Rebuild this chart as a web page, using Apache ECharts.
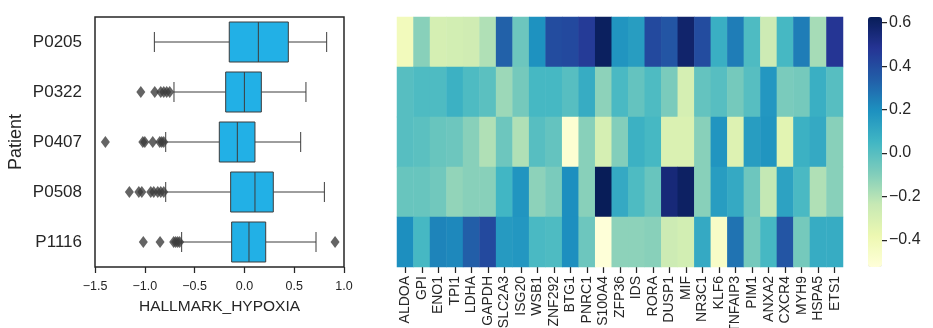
<!DOCTYPE html>
<html>
<head>
<meta charset="utf-8">
<script src="https://cdn.jsdelivr.net/npm/echarts@6/dist/echarts.min.js"></script>
<style>
html,body{margin:0;padding:0;background:#fff;}
#chart{width:933px;height:328px;}
</style>
</head>
<body>
<div id="chart"></div>
<script>
// ---------- DATA ----------
const patients = ['P0205', 'P0322', 'P0407', 'P0508', 'P1116'];
const genes = ['ALDOA','GPI','ENO1','TPI1','LDHA','GAPDH','SLC2A3','ISG20','WSB1','ZNF292','BTG1','PNRC1','S100A4','ZFP36','IDS','RORA','DUSP1','MIF','NR3C1','KLF6','TNFAIP3','PIM1','ANXA2','CXCR4','MYH9','HSPA5','ETS1'];

// boxplot statistics (HALLMARK_HYPOXIA) per patient
const boxLow    = [-0.904, -0.707, -0.790, -0.790, -0.630];
const boxQ1     = [-0.152, -0.188, -0.252, -0.138, -0.128];
const boxMedian = [ 0.140,  0.000, -0.071,  0.106,  0.046];
const boxQ3     = [ 0.441,  0.170,  0.106,  0.290,  0.214];
const boxHigh   = [ 0.826,  0.618,  0.565,  0.803,  0.719];

// outliers per patient
const outP0205 = [];
const outP0322 = [-1.04, -0.90, -0.84, -0.81, -0.78, -0.75];
const outP0407 = [-1.396, -1.02, -1.00, -0.92, -0.85, -0.83, -0.81];
const outP0508 = [-1.155, -1.06, -1.03, -0.94, -0.91, -0.87, -0.84, -0.81];
const outP1116 = [-1.015, -0.847, -0.71, -0.69, -0.67, -0.65, 0.91];

// heatmap values per patient (one per gene)
const heatP0205 = [-0.42,-0.11,-0.29,-0.28,-0.27,-0.19, 0.33,-0.05, 0.19, 0.40, 0.41, 0.46, 0.61, 0.18, 0.15, 0.41, 0.37, 0.58, 0.40, 0.08, 0.25, 0.02,-0.26, 0.04, 0.25,-0.17, 0.48];
const heatP0322 = [ 0.00, 0.02, 0.02, 0.07, 0.02,-0.01,-0.15,-0.07, 0.04, 0.04, 0.00, 0.09,-0.12, 0.03,-0.03, 0.02,-0.08,-0.29,-0.03, 0.00,-0.07, 0.00, 0.17,-0.08,-0.07, 0.08, 0.00];
const heatP0407 = [ 0.00,-0.01,-0.04,-0.05,-0.11,-0.19,-0.05,-0.19, 0.00,-0.03,-0.50,-0.11,-0.29,-0.10, 0.07, 0.04,-0.31,-0.31,-0.11, 0.18,-0.32, 0.15, 0.18,-0.34, 0.07, 0.10,-0.11];
const heatP0508 = [-0.04,-0.04,-0.06,-0.13,-0.11,-0.11, 0.05, 0.18,-0.12,-0.08, 0.20,-0.11, 0.626, 0.10, 0.02,-0.04, 0.55, 0.60,-0.11, 0.15, 0.10,-0.05,-0.23, 0.13, 0.03,-0.19,-0.11];
const heatP1116 = [ 0.20, 0.04, 0.23, 0.22, 0.34, 0.41, 0.16, 0.17, 0.03, 0.02, 0.20,-0.05,-0.52,-0.12,-0.12,-0.11,-0.26,-0.28, 0.10,-0.46, 0.28,-0.07, 0.04, 0.37,-0.07, 0.09, 0.09];

const boxTicks = [-1.5, -1.0, -0.5, 0.0, 0.5, 1.0];
const cbarTicks = [-0.4, -0.2, 0.0, 0.2, 0.4, 0.6];
const cbarMin = -0.524, cbarMax = 0.626;

// ---------- BUILD ----------
const outlierLists = [outP0205, outP0322, outP0407, outP0508, outP1116];
const heatRows = [heatP0205, heatP0322, heatP0407, heatP0508, heatP1116];
const boxData = patients.map((p, i) => [i, boxLow[i], boxQ1[i], boxMedian[i], boxQ3[i], boxHigh[i]]);
const outlierData = [];
outlierLists.forEach((lst, i) => lst.forEach(v => outlierData.push([v, i])));
const heatData = [];
heatRows.forEach((row, r) => row.forEach((v, c) => heatData.push([c, r, v])));

const FONT = '"Liberation Sans", Arial, Helvetica, sans-serif';
const TXT = '#262626';
const EDGE = '#3d3d3d';
const fmt = v => (Math.abs(v) < 1e-9 ? '0.0' : v.toFixed(1).replace('-', '\u2212'));

const chart = echarts.init(document.getElementById('chart'), null, {renderer: 'canvas'});

const option = {
  animation: false,
  textStyle: {fontFamily: FONT, color: TXT},
  grid: [
    {left: 95, top: 17, width: 249, height: 250, show: true, borderColor: TXT, borderWidth: 1.5, backgroundColor: 'transparent', containLabel: false, outerBoundsMode: 'none'},
    {left: 397, top: 17, width: 446, height: 250, containLabel: false, outerBoundsMode: 'none'},
    {left: 868, top: 17, width: 14, height: 250, containLabel: false, outerBoundsMode: 'none'}
  ],
  xAxis: [
    {
      gridIndex: 0, type: 'value', min: -1.5, max: 1.0, interval: 0.5,
      axisLine: {show: false},
      axisTick: {show: true, length: 6, lineStyle: {color: TXT, width: 1.25}},
      axisLabel: {fontSize: 12.5, color: TXT, margin: 13, fontFamily: FONT, formatter: fmt},
      splitLine: {show: false},
      name: 'HALLMARK_HYPOXIA', nameLocation: 'middle', nameGap: 32,
      nameTextStyle: {fontSize: 15.5, color: TXT, fontFamily: FONT}
    },
    {
      gridIndex: 1, type: 'category', data: genes,
      axisLine: {show: false},
      axisTick: {show: true, length: 6, alignWithLabel: true, lineStyle: {color: TXT, width: 1.25}},
      axisLabel: {rotate: 90, fontSize: 14, color: TXT, margin: 9, interval: 0, fontFamily: FONT},
      splitLine: {show: false}
    },
    {gridIndex: 2, type: 'category', data: [''], show: false}
  ],
  yAxis: [
    {
      gridIndex: 0, type: 'category', data: patients, inverse: true,
      axisLine: {show: false},
      axisTick: {show: true, length: 6, alignWithLabel: true, lineStyle: {color: TXT, width: 1.25}},
      axisLabel: {fontSize: 17, color: TXT, margin: 13, fontFamily: FONT},
      name: 'Patient', nameLocation: 'middle', nameGap: 70, nameRotate: 90,
      nameTextStyle: {fontSize: 18, color: TXT, fontFamily: FONT}
    },
    {
      gridIndex: 1, type: 'category', data: patients, inverse: true,
      show: false
    },
    {
      gridIndex: 2, type: 'value', min: cbarMin, max: cbarMax, position: 'right',
      axisLine: {show: false},
      axisTick: {show: true, length: 5, customValues: cbarTicks, lineStyle: {color: TXT, width: 1.25}},
      axisLabel: {fontSize: 16, color: TXT, margin: 7, fontFamily: FONT, customValues: cbarTicks, formatter: fmt},
      splitLine: {show: false}
    }
  ],
  visualMap: {
    type: 'continuous', min: cbarMin, max: cbarMax, seriesIndex: 2,
    orient: 'vertical', left: 868, top: 17, itemWidth: 14, itemHeight: 250,
    padding: 0, calculable: false, realtime: false, hoverLink: false,
    inRange: {color: ['#ffffd9','#edf8b1','#c7e9b4','#7fcdbb','#41b6c4','#1d91c0','#225ea8','#253494','#081d58']}
  },
  series: [
    {
      type: 'custom', xAxisIndex: 0, yAxisIndex: 0, data: boxData, z: 3,
      encode: {x: [1, 2, 3, 4, 5], y: 0},
      renderItem: function (params, api) {
        const y = api.value(0);
        const band = api.size([0, 1])[1];
        const hb = band * 0.4, hc = band * 0.2;
        const pLow = api.coord([api.value(1), y]);
        const pQ1 = api.coord([api.value(2), y]);
        const pMed = api.coord([api.value(3), y]);
        const pQ3 = api.coord([api.value(4), y]);
        const pHigh = api.coord([api.value(5), y]);
        const cy = pQ1[1];
        const ls = {stroke: EDGE, lineWidth: 1};
        return {
          type: 'group',
          children: [
            {type: 'line', shape: {x1: pLow[0], y1: cy, x2: pQ1[0], y2: cy}, style: ls},
            {type: 'line', shape: {x1: pQ3[0], y1: cy, x2: pHigh[0], y2: cy}, style: ls},
            {type: 'line', shape: {x1: pLow[0], y1: cy - hc, x2: pLow[0], y2: cy + hc}, style: ls},
            {type: 'line', shape: {x1: pHigh[0], y1: cy - hc, x2: pHigh[0], y2: cy + hc}, style: ls},
            {type: 'rect', shape: {x: pQ1[0], y: cy - hb, width: pQ3[0] - pQ1[0], height: 2 * hb}, style: {fill: '#22b0e6', stroke: EDGE, lineWidth: 1}},
            {type: 'line', shape: {x1: pMed[0], y1: cy - hb, x2: pMed[0], y2: cy + hb}, style: ls}
          ]
        };
      }
    },
    {
      type: 'scatter', xAxisIndex: 0, yAxisIndex: 0, data: outlierData, z: 4,
      symbol: 'diamond', symbolSize: [9, 12],
      itemStyle: {color: EDGE}
    },
    {
      type: 'heatmap', xAxisIndex: 1, yAxisIndex: 1, data: heatData,
      itemStyle: {borderWidth: 0},
      emphasis: {disabled: true}
    },
    {
      type: 'line', xAxisIndex: 2, yAxisIndex: 2, data: [], silent: true
    }
  ]
};
chart.setOption(option);
</script>
</body>
</html>
